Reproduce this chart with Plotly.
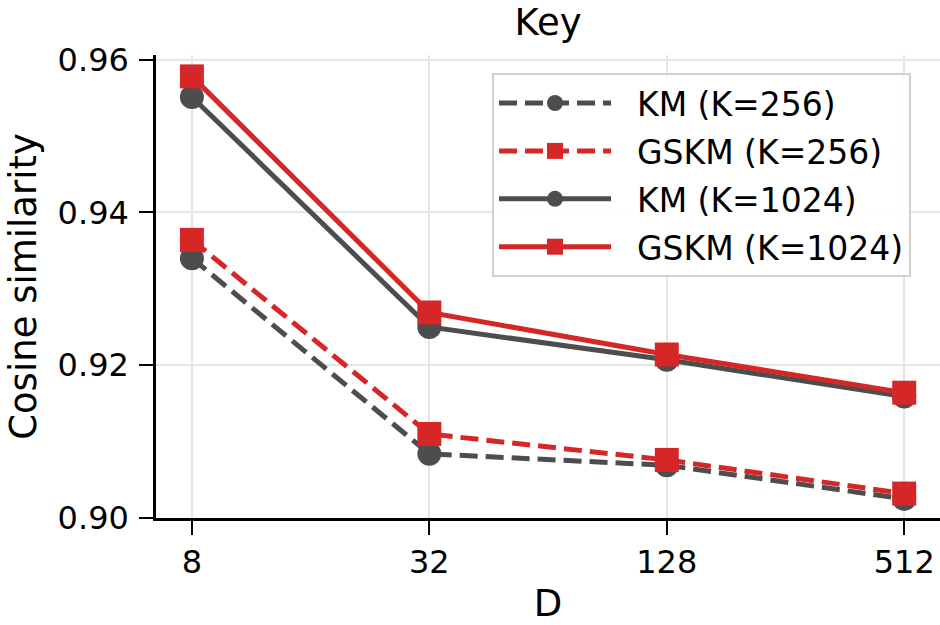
import plotly.graph_objects as go

D = [8, 32, 128, 512]
tick_labels = ["8", "32", "128", "512"]
km_256 = [0.9340, 0.9084, 0.9069, 0.9025]
gskm_256 = [0.9364, 0.9110, 0.9076, 0.9032]
km_1024 = [0.9551, 0.9250, 0.9207, 0.9159]
gskm_1024 = [0.9578, 0.9269, 0.9214, 0.9164]

GRAY = "#4d4d4d"
RED = "#d62728"
FONT = "DejaVu Sans"
NB = "\u00a0"

series = [
    ("KM (K=256)", km_256, GRAY, "circle", "18px,8px"),
    ("GSKM (K=256)", gskm_256, RED, "square", "18px,8px"),
    ("KM (K=1024)", km_1024, GRAY, "circle", "solid"),
    ("GSKM (K=1024)", gskm_1024, RED, "square", "solid"),
]

fig = go.Figure()
for i, (name, vals, color, sym, dash) in enumerate(series):
    fig.add_trace(go.Scatter(
        x=D, y=vals, name=NB * 2 + name, mode="lines+markers",
        legendgroup="g%d" % i,
        line=dict(color=color, width=5, dash=dash),
        marker=dict(symbol=sym, size=24, color=color, line=dict(width=0)),
    ))

fig.update_layout(
    width=940, height=625,
    margin=dict(l=156, r=0, t=55, b=107),
    paper_bgcolor="white", plot_bgcolor="white",
    font=dict(family=FONT, size=32, color="black"),
    title=dict(text="Key", x=0.583, xanchor="center", y=0.985, yanchor="top",
               font=dict(size=37, family=FONT, color="black")),
    showlegend=True,
    legend=dict(
        x=0.4286, xanchor="left", y=0.961, yanchor="top",
        bgcolor="rgba(255,255,255,0.85)", bordercolor="#d0d0d0", borderwidth=2,
        font=dict(size=33, family=FONT), itemwidth=112,
        tracegroupgap=2, traceorder="grouped",
    ),
)
fig.update_xaxes(
    type="log", range=[0.812, 2.800],
    tickvals=D, ticktext=tick_labels,
    showline=True, linecolor="black", linewidth=2.5, mirror=False,
    ticks="outside", ticklen=14, tickwidth=2, tickcolor="black",
    showgrid=True, gridcolor="#e6e6e6", gridwidth=2,
    zeroline=False,
    title=dict(text="D", font=dict(size=37, family=FONT), standoff=10),
)
fig.update_yaxes(
    range=[0.900, 0.9606],
    tickvals=[0.90, 0.92, 0.94, 0.96], ticktext=["0.90", "0.92", "0.94", "0.96"],
    showline=True, linecolor="black", linewidth=2.5, mirror=False,
    ticks="outside", ticklen=14, tickwidth=2, tickcolor="black",
    showgrid=True, gridcolor="#e6e6e6", gridwidth=2,
    zeroline=False, ticklabelstandoff=4,
    title=dict(text="Cosine similarity", font=dict(size=37, family=FONT), standoff=10),
)

fig.write_html("out.html")
